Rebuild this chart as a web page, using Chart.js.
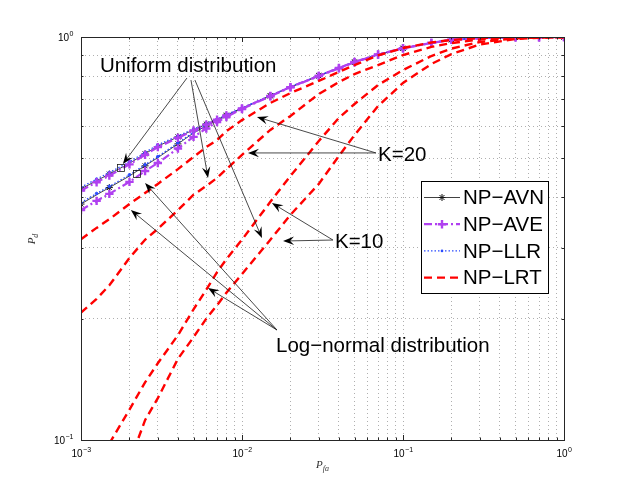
<!DOCTYPE html>
<html>
<head>
<meta charset="utf-8">
<script src="https://cdn.jsdelivr.net/npm/chart.js@4.4.1/dist/chart.umd.min.js"></script>
<style>
  html, body { margin: 0; padding: 0; background: #fff; }
  canvas { display: block; }
</style>
</head>
<body>
<canvas id="rocChart" width="623" height="496"></canvas>
<script>
const pfaGrid = [0.001, 0.00125, 0.0015, 0.002, 0.0025, 0.003, 0.004, 0.005, 0.006, 0.007, 0.008,
  0.01, 0.015, 0.02, 0.03, 0.04, 0.05, 0.07, 0.1, 0.15, 0.2, 0.3, 0.5, 0.7, 1];

// P_d, uniform distribution bundle (upper)
const avnUniform = [0.420, 0.440, 0.457, 0.486, 0.513, 0.536, 0.565, 0.588, 0.608, 0.624, 0.640,
  0.666, 0.715, 0.752, 0.802, 0.838, 0.867, 0.905, 0.938, 0.967, 0.984, 0.994, 0.998, 0.999, 1.0];
const aveUniform = [0.416, 0.436, 0.453, 0.483, 0.510, 0.533, 0.562, 0.586, 0.606, 0.623, 0.639,
  0.665, 0.714, 0.751, 0.801, 0.838, 0.867, 0.905, 0.938, 0.967, 0.984, 0.994, 0.998, 0.999, 1.0];
const llrUniform = [0.424, 0.444, 0.461, 0.490, 0.517, 0.540, 0.568, 0.591, 0.610, 0.626, 0.642,
  0.667, 0.716, 0.753, 0.802, 0.839, 0.868, 0.905, 0.938, 0.967, 0.984, 0.994, 0.998, 0.999, 1.0];

// P_d, log-normal distribution bundle (lower)
const avnLognormal = [0.385, 0.406, 0.423, 0.452, 0.479, 0.502, 0.543, 0.578, 0.602, 0.621, 0.637,
  0.665, 0.714, 0.751, 0.801, 0.837, 0.866, 0.904, 0.937, 0.967, 0.984, 0.994, 0.998, 0.999, 1.0];
const aveLognormal = [0.372, 0.392, 0.408, 0.437, 0.465, 0.487, 0.529, 0.565, 0.593, 0.615, 0.633,
  0.663, 0.713, 0.750, 0.800, 0.836, 0.866, 0.904, 0.937, 0.967, 0.984, 0.994, 0.998, 0.999, 1.0];
const llrLognormal = [0.388, 0.409, 0.426, 0.455, 0.482, 0.505, 0.546, 0.580, 0.604, 0.622, 0.638,
  0.666, 0.715, 0.752, 0.802, 0.838, 0.867, 0.905, 0.938, 0.967, 0.984, 0.994, 0.998, 0.999, 1.0];

// P_d, NP-LRT curves
const lrtLogK20 = [0.315, 0.336, 0.353, 0.385, 0.410, 0.432, 0.470, 0.504, 0.533, 0.555, 0.584,
  0.622, 0.686, 0.726, 0.778, 0.819, 0.852, 0.900, 0.939, 0.969, 0.983, 0.994, 0.998, 0.999, 1.0];
const lrtUniK20 = [0.207, 0.224, 0.242, 0.283, 0.314, 0.334, 0.372, 0.406, 0.427, 0.447, 0.470,
  0.510, 0.588, 0.637, 0.722, 0.773, 0.809, 0.852, 0.902, 0.945, 0.966, 0.986, 0.996, 0.999, 1.0];
const lrtLogK10 = [null, null, 0.098, 0.119, 0.139, 0.155, 0.182, 0.211, 0.236, 0.261, 0.281,
  0.314, 0.390, 0.452, 0.552, 0.630, 0.682, 0.760, 0.828, 0.897, 0.936, 0.972, 0.992, 0.997, 1.0];
const lrtUniK10 = [null, null, null, 0.088, 0.112, 0.127, 0.159, 0.180, 0.200, 0.216, 0.232,
  0.258, 0.314, 0.362, 0.432, 0.507, 0.571, 0.674, 0.769, 0.857, 0.907, 0.958, 0.989, 0.995, 1.0];

// axis ticks (decade exponents)
const xTickExps = [-3, -2, -1, 0];
const yTickExps = [-1, 0];

const legendLabels = ['NP\u2212AVN', 'NP\u2212AVE', 'NP\u2212LLR', 'NP\u2212LRT'];
const legendMethods = ['AVN', 'AVE', 'LLR', 'LRT'];

// annotations, in (P_fa, P_d)
const noteTexts = [
  { text: 'Uniform distribution', x: 0.00131, y: 0.819 },
  { text: 'K=20', x: 0.070, y: 0.492 },
  { text: 'K=10', x: 0.0378, y: 0.2995 },
  { text: 'Log\u2212normal distribution', x: 0.01626, y: 0.1654 }
];
const noteArrows = [
  [0.00455, 0.791, 0.00182, 0.484],
  [0.00482, 0.782, 0.00615, 0.447],
  [0.0051, 0.782, 0.0133, 0.317],
  [0.0679, 0.5156, 0.01239, 0.633],
  [0.0679, 0.5156, 0.01089, 0.5156],
  [0.0367, 0.3135, 0.01534, 0.3873],
  [0.0367, 0.3135, 0.01799, 0.3117],
  [0.01648, 0.1875, 0.00204, 0.3722],
  [0.01648, 0.1875, 0.0025, 0.4342],
  [0.01648, 0.1875, 0.00615, 0.2383]
];
const noteBoxes = [[0.00177, 0.473], [0.00223, 0.457]];

const methodStyles = {
  AVN: { color: '#111111', width: 0.8, dash: [], point: 'star', radius: 3.5, pointWidth: 1, every: 2, order: 3 },
  AVE: { color: '#b040f0', width: 2.2, dash: [8, 3, 2, 3], point: 'cross', radius: 4.2, pointWidth: 2.4, every: 1, order: 1 },
  LLR: { color: '#2a4bff', width: 1.3, dash: [1.5, 2], point: 'circle', radius: 1.3, pointWidth: 1, every: 1, order: 2 },
  LRT: { color: '#ff0000', width: 2.4, dash: [8, 5], point: false, radius: 0, pointWidth: 0, every: 1, order: 0 }
};

const FONT = "'Liberation Sans', Arial, sans-serif";
const SERIF = "'Liberation Serif', 'DejaVu Serif', serif";

function series(label, method, values) {
  const s = methodStyles[method];
  return {
    label,
    data: pfaGrid.map((x, i) => ({ x, y: values[i] })),
    borderColor: s.color,
    backgroundColor: s.color,
    borderWidth: s.width,
    borderDash: s.dash,
    pointStyle: s.point || 'circle',
    pointRadius: ctx => (s.point && ctx.dataIndex % s.every === 0) ? s.radius : 0,
    pointBorderWidth: s.pointWidth,
    pointBorderColor: s.color,
    pointBackgroundColor: s.color,
    tension: 0,
    fill: false,
    spanGaps: false,
    order: s.order
  };
}

function decadeTicks(exps) {
  const vals = [];
  for (let i = 0; i < exps.length; i++) {
    const base = Math.pow(10, exps[i]);
    vals.push(base);
    if (i < exps.length - 1) for (let k = 2; k <= 9; k++) vals.push(k * base);
  }
  return vals;
}

function isDecade(v) {
  const l = Math.log10(v);
  return Math.abs(l - Math.round(l)) < 1e-9;
}

function drawMarker(ctx, style, x, y, r) {
  ctx.beginPath();
  if (style === 'star') {
    const d = r * 0.707;
    ctx.moveTo(x - r, y); ctx.lineTo(x + r, y);
    ctx.moveTo(x, y - r); ctx.lineTo(x, y + r);
    ctx.moveTo(x - d, y - d); ctx.lineTo(x + d, y + d);
    ctx.moveTo(x - d, y + d); ctx.lineTo(x + d, y - d);
    ctx.stroke();
  } else if (style === 'cross') {
    ctx.moveTo(x - r, y); ctx.lineTo(x + r, y);
    ctx.moveTo(x, y - r); ctx.lineTo(x, y + r);
    ctx.stroke();
  } else if (style === 'circle') {
    ctx.arc(x, y, r, 0, Math.PI * 2);
    ctx.fill();
  }
}

function drawArrow(ctx, x1, y1, x2, y2) {
  const ang = Math.atan2(y2 - y1, x2 - x1);
  const c = Math.cos(ang), s = Math.sin(ang);
  const L = 11, W = 4.2, N = 7;
  ctx.beginPath();
  ctx.moveTo(x1, y1);
  ctx.lineTo(x2 - N * c, y2 - N * s);
  ctx.stroke();
  ctx.beginPath();
  ctx.moveTo(x2, y2);
  ctx.lineTo(x2 - L * c - W * s, y2 - L * s + W * c);
  ctx.lineTo(x2 - N * c, y2 - N * s);
  ctx.lineTo(x2 - L * c + W * s, y2 - L * s - W * c);
  ctx.closePath();
  ctx.fill();
}

function powerLabel(ctx, exp, x, y, align) {
  const base = '10', sup = String(exp).replace('-', '\u2212');
  ctx.font = '10px ' + FONT;
  const wb = ctx.measureText(base).width;
  ctx.font = '7px ' + FONT;
  const ws = ctx.measureText(sup).width;
  const left = align === 'center' ? x - (wb + ws) / 2 : x - (wb + ws);
  ctx.textBaseline = 'alphabetic';
  ctx.textAlign = 'left';
  ctx.font = '10px ' + FONT;
  ctx.fillText(base, left, y);
  ctx.font = '7px ' + FONT;
  ctx.fillText(sup, left + wb + 0.5, y - 5);
}

const notesPlugin = {
  id: 'notes',
  afterDatasetsDraw(chart) {
    const { ctx, scales: { x, y } } = chart;
    ctx.save();
    ctx.strokeStyle = '#1a1a1a';
    ctx.fillStyle = '#000';
    ctx.lineWidth = 0.8;
    noteBoxes.forEach(b => {
      const px = x.getPixelForValue(b[0]), py = y.getPixelForValue(b[1]);
      ctx.strokeRect(px - 3.5, py - 3.5, 7, 7);
    });
    noteArrows.forEach(a => {
      drawArrow(ctx, x.getPixelForValue(a[0]), y.getPixelForValue(a[1]),
        x.getPixelForValue(a[2]), y.getPixelForValue(a[3]));
    });
    ctx.font = '20.5px ' + FONT;
    ctx.textAlign = 'left';
    ctx.textBaseline = 'alphabetic';
    noteTexts.forEach(t => {
      ctx.fillText(t.text, x.getPixelForValue(t.x), y.getPixelForValue(t.y));
    });

    // legend box
    const area = chart.chartArea;
    const lx = area.right - 143, ly = area.top + 144, lw = 127, lh = 112;
    ctx.fillStyle = '#fff';
    ctx.fillRect(lx, ly, lw, lh);
    ctx.strokeStyle = '#000';
    ctx.lineWidth = 1;
    ctx.strokeRect(lx + 0.5, ly + 0.5, lw, lh);
    legendMethods.forEach((m, i) => {
      const st = methodStyles[m];
      const ry = ly + 16.5 + i * 26.7;
      ctx.strokeStyle = st.color;
      ctx.fillStyle = st.color;
      ctx.lineWidth = st.width;
      ctx.setLineDash(st.dash);
      ctx.beginPath();
      ctx.moveTo(lx + 3, ry);
      ctx.lineTo(lx + 39, ry);
      ctx.stroke();
      ctx.setLineDash([]);
      if (st.point) {
        ctx.lineWidth = st.pointWidth;
        drawMarker(ctx, st.point, lx + 21, ry, st.radius);
      }
      ctx.fillStyle = '#000';
      ctx.font = '20.5px ' + FONT;
      ctx.textBaseline = 'middle';
      ctx.fillText(legendLabels[i], lx + 42, ry + 1);
    });
    ctx.restore();
  },
  afterDraw(chart) {
    const { ctx, chartArea: a, scales: { x, y } } = chart;
    ctx.save();
    ctx.strokeStyle = '#262626';
    ctx.fillStyle = '#000';
    ctx.lineWidth = 1;
    ctx.beginPath();
    x.ticks.forEach(t => {
      const px = Math.round(x.getPixelForValue(t.value)) + 0.5;
      const len = isDecade(t.value) ? 5 : 2.5;
      ctx.moveTo(px, a.bottom); ctx.lineTo(px, a.bottom - len);
      ctx.moveTo(px, a.top); ctx.lineTo(px, a.top + len);
    });
    y.ticks.forEach(t => {
      const py = Math.round(y.getPixelForValue(t.value)) + 0.5;
      const len = isDecade(t.value) ? 5 : 2.5;
      ctx.moveTo(a.left, py); ctx.lineTo(a.left + len, py);
      ctx.moveTo(a.right, py); ctx.lineTo(a.right - len, py);
    });
    ctx.stroke();
    ctx.strokeRect(Math.round(a.left) + 0.5, Math.round(a.top) + 0.5,
      Math.round(a.right - a.left), Math.round(a.bottom - a.top));

    xTickExps.forEach(e => powerLabel(ctx, e, x.getPixelForValue(Math.pow(10, e)), a.bottom + 17, 'center'));
    yTickExps.forEach(e => powerLabel(ctx, e, a.left - 8, y.getPixelForValue(Math.pow(10, e)) + 4, 'right'));

    // axis titles
    ctx.fillStyle = '#333';
    ctx.textBaseline = 'alphabetic';
    ctx.textAlign = 'left';
    const cx = (a.left + a.right) / 2;
    ctx.font = 'italic 11px ' + SERIF;
    const wP = ctx.measureText('P').width;
    ctx.font = 'italic 8px ' + SERIF;
    const wfa = ctx.measureText('fa').width;
    ctx.font = 'italic 11px ' + SERIF;
    ctx.fillText('P', cx - (wP + wfa) / 2, a.bottom + 28);
    ctx.font = 'italic 8px ' + SERIF;
    ctx.fillText('fa', cx - (wP + wfa) / 2 + wP, a.bottom + 31);

    ctx.translate(35, (a.top + a.bottom) / 2);
    ctx.rotate(-Math.PI / 2);
    ctx.font = 'italic 11px ' + SERIF;
    const wP2 = ctx.measureText('P').width;
    ctx.fillText('P', -(wP2 + 5) / 2, 0);
    ctx.font = 'italic 8px ' + SERIF;
    ctx.fillText('d', -(wP2 + 5) / 2 + wP2, 3);
    ctx.restore();
  }
};

const datasets = [
  series('NP\u2212LRT uniform K=10', 'LRT', lrtUniK10),
  series('NP\u2212LRT log-normal K=10', 'LRT', lrtLogK10),
  series('NP\u2212LRT uniform K=20', 'LRT', lrtUniK20),
  series('NP\u2212LRT log-normal K=20', 'LRT', lrtLogK20),
  series('NP\u2212AVE log-normal', 'AVE', aveLognormal),
  series('NP\u2212LLR log-normal', 'LLR', llrLognormal),
  series('NP\u2212AVN log-normal', 'AVN', avnLognormal),
  series('NP\u2212AVE uniform', 'AVE', aveUniform),
  series('NP\u2212LLR uniform', 'LLR', llrUniform),
  series('NP\u2212AVN uniform', 'AVN', avnUniform)
];

const gridStyle = { color: '#9a9a9a', lineWidth: 0.8, drawTicks: false };
const borderStyle = { display: false, dash: [1, 3] };

new Chart(document.getElementById('rocChart'), {
  type: 'line',
  data: { datasets },
  plugins: [notesPlugin],
  options: {
    responsive: false,
    animation: false,
    events: [],
    layout: { padding: { left: 81, right: 59, top: 37, bottom: 56 } },
    plugins: { legend: { display: false }, tooltip: { enabled: false }, title: { display: false } },
    scales: {
      x: {
        type: 'logarithmic', min: 0.001, max: 1,
        grid: gridStyle, border: borderStyle,
        ticks: { display: false },
        afterBuildTicks: s => { s.ticks = decadeTicks(xTickExps).map(v => ({ value: v })); },
        afterFit: s => { s.height = 0; }
      },
      y: {
        type: 'logarithmic', min: 0.1, max: 1,
        grid: gridStyle, border: borderStyle,
        ticks: { display: false },
        afterBuildTicks: s => { s.ticks = decadeTicks(yTickExps).map(v => ({ value: v })); },
        afterFit: s => { s.width = 0; }
      }
    }
  }
});
</script>
</body>
</html>
